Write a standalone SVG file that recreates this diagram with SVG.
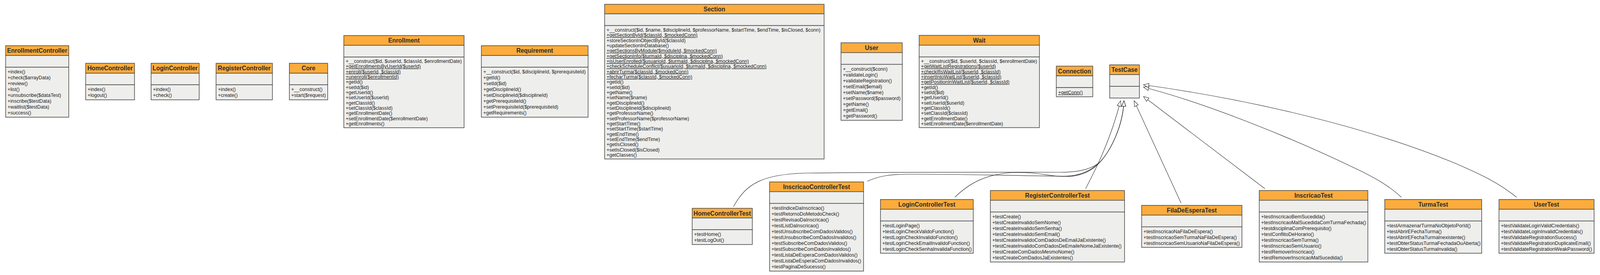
<svg xmlns="http://www.w3.org/2000/svg" width="4258" height="704" viewBox="0 0 4258 704">
<style>
.hd{fill:#FBAC3C;stroke:#4a4a4a;stroke-width:1.6}
.bd{fill:#EEEEEC;stroke:#4a4a4a;stroke-width:1.6}
.t{font-family:"Liberation Sans",Arial,sans-serif;font-size:16px;font-weight:bold;fill:#2a2a2a;text-anchor:middle}
.m{font-family:"Liberation Sans",Arial,sans-serif;font-size:13px;fill:#222}
.u{text-decoration:underline}
.c{fill:none;stroke:#333;stroke-width:1.2;marker-end:url(#gen)}
</style>
<defs>
<marker id="gen" viewBox="-1 -7 16 14" refX="14" refY="0" markerWidth="16" markerHeight="14" orient="auto" markerUnits="userSpaceOnUse">
<path d="M0,-5.5 L14,0 L0,5.5 Z" fill="#fff" stroke="#333" stroke-width="1.2"/>
</marker>
</defs>
<rect x="0" y="0" width="4258" height="704" fill="#fff"/>
<g id="diagram" transform="scale(0.962 1)">

<g id="connectors">
<path class="c" d="M1952,529 C1985,470 2030,445 2150,443 C2400,440 2700,441 2820,441 C2880,441 2910,430 2929,413 C2955,385 2988,325 2991,258"/>
<path class="c" d="M2308,464 C2340,450 2370,446 2420,446 C2600,446 2760,451 2830,451 C2880,451 2910,432 2929,413 C2955,385 2988,325 2991,258"/>
<path class="c" d="M2541,505 C2580,468 2625,446 2692,442 C2760,439 2790,452 2835,452 C2885,452 2912,432 2929,413 C2955,385 2988,325 2991,258"/>
<path class="c" d="M2889,483 C2915,435 2955,360 2982,258"/>
<path class="c" d="M3143,520 L3018,258"/>
<path class="c" d="M3366,483 L3043,247"/>
<path class="c" d="M3729,505 C3700,478 3660,455 3600,428 C3420,345 3200,262 3043,223"/>
<path class="c" d="M4036,505 C3990,470 3950,450 3870,417 C3650,330 3350,258 3043,217"/>
</g>

<g id="EnrollmentController">
<rect class="hd" x="15" y="117" width="168" height="25"/>
<rect class="bd" x="15" y="142" width="168" height="30"/>
<rect class="bd" x="15" y="172" width="168" height="128"/>
<text class="t" x="99" y="135.5">EnrollmentController</text>
<text class="m" x="20" y="188.5">+index()</text>
<text class="m" x="20" y="203.5">+check($arrayData)</text>
<text class="m" x="20" y="218.5">+review()</text>
<text class="m" x="20" y="233.5">+list()</text>
<text class="m" x="20" y="248.5">+unsubscribe($dataTest)</text>
<text class="m" x="20" y="263.5">+inscribe($testData)</text>
<text class="m" x="20" y="278.5">+waitlist($testData)</text>
<text class="m" x="20" y="293.5">+success()</text>
</g>

<g id="HomeController">
<rect class="hd" x="228" y="162" width="130" height="25.5"/>
<rect class="bd" x="228" y="187.5" width="130" height="29.5"/>
<rect class="bd" x="228" y="217" width="130" height="38.5"/>
<text class="t" x="293" y="180.5">HomeController</text>
<text class="m" x="233" y="233.5">+index()</text>
<text class="m" x="233" y="248.5">+logout()</text>
</g>

<g id="LoginController">
<rect class="hd" x="402" y="162" width="128" height="25.5"/>
<rect class="bd" x="402" y="187.5" width="128" height="29.5"/>
<rect class="bd" x="402" y="217" width="128" height="38.5"/>
<text class="t" x="466" y="180.5">LoginController</text>
<text class="m" x="407" y="233.5">+index()</text>
<text class="m" x="407" y="248.5">+check()</text>
</g>

<g id="RegisterController">
<rect class="hd" x="575" y="162" width="150" height="25.5"/>
<rect class="bd" x="575" y="187.5" width="150" height="29.5"/>
<rect class="bd" x="575" y="217" width="150" height="38.5"/>
<text class="t" x="650" y="180.5">RegisterController</text>
<text class="m" x="580" y="233.5">+index()</text>
<text class="m" x="580" y="248.5">+create()</text>
</g>

<g id="Core">
<rect class="hd" x="770" y="162" width="102" height="25.5"/>
<rect class="bd" x="770" y="187.5" width="102" height="29.5"/>
<rect class="bd" x="770" y="217" width="102" height="38.5"/>
<text class="t" x="821" y="180.5">Core</text>
<text class="m" x="775" y="233.5">+__construct()</text>
<text class="m" x="775" y="248.5">+start($request)</text>
</g>

<g id="Enrollment">
<rect class="hd" x="915" y="91" width="320" height="25"/>
<rect class="bd" x="915" y="116" width="320" height="30"/>
<rect class="bd" x="915" y="146" width="320" height="181"/>
<text class="t" x="1075" y="109.5">Enrollment</text>
<text class="m" x="920" y="161">+__construct($id, $userId, $classId, $enrollmentDate)</text>
<text class="m u" x="920" y="174.3">+getEnrollmentsByUserId($userId)</text>
<text class="m u" x="920" y="187.7">+enroll($userId, $classId)</text>
<text class="m u" x="920" y="201">+unenroll($enrollmentId)</text>
<text class="m" x="920" y="214.3">+getId()</text>
<text class="m" x="920" y="227.7">+setId($id)</text>
<text class="m" x="920" y="241">+getUserId()</text>
<text class="m" x="920" y="254.3">+setUserId($userId)</text>
<text class="m" x="920" y="267.7">+getClassId()</text>
<text class="m" x="920" y="281">+setClassId($classId)</text>
<text class="m" x="920" y="294.3">+getEnrollmentDate()</text>
<text class="m" x="920" y="307.7">+setEnrollmentDate($enrollmentDate)</text>
<text class="m" x="920" y="321">+getEnrollments()</text>
</g>

<g id="Requirement">
<rect class="hd" x="1281" y="117" width="284" height="25"/>
<rect class="bd" x="1281" y="142" width="284" height="30"/>
<rect class="bd" x="1281" y="172" width="284" height="128"/>
<text class="t" x="1423" y="135.5">Requirement</text>
<text class="m" x="1286" y="188.5">+__construct($id, $disciplineId, $prerequisiteId)</text>
<text class="m" x="1286" y="203.5">+getId()</text>
<text class="m" x="1286" y="218.5">+setId($id)</text>
<text class="m" x="1286" y="233.5">+getDisciplineId()</text>
<text class="m" x="1286" y="248.5">+setDisciplineId($disciplineId)</text>
<text class="m" x="1286" y="263.5">+getPrerequisiteId()</text>
<text class="m" x="1286" y="278.5">+setPrerequisiteId($prerequisiteId)</text>
<text class="m" x="1286" y="293.5">+getRequirements()</text>
</g>

<g id="Section">
<rect class="hd" x="1609" y="11" width="584" height="24.5"/>
<rect class="bd" x="1609" y="35.5" width="584" height="30"/>
<rect class="bd" x="1609" y="65.5" width="584" height="341.5"/>
<text class="t" x="1901" y="29.5">Section</text>
<text class="m" x="1614" y="81">+__construct($id, $name, $disciplineId, $professorName, $startTime, $endTime, $isClosed, $conn)</text>
<text class="m u" x="1614" y="94.3">+getSectionById($classId, $mockedConn)</text>
<text class="m" x="1614" y="107.7">+storeSectionInObjectById($classId)</text>
<text class="m" x="1614" y="121">+updateSectionInDatabase()</text>
<text class="m u" x="1614" y="134.3">+getSectionsByModule($moduleId, $mockedConn)</text>
<text class="m u" x="1614" y="147.7">+getSectionInfo($turmaId, $disciplina, $mockedConn)</text>
<text class="m u" x="1614" y="161">+isUserEnrolled($usuarioId, $turmaId, $disciplina, $mockedConn)</text>
<text class="m u" x="1614" y="174.3">+checkScheduleConflict($usuarioId, $turmaId, $disciplina, $mockedConn)</text>
<text class="m u" x="1614" y="187.7">+abrirTurma($classId, $mockedConn)</text>
<text class="m u" x="1614" y="201">+fecharTurma($classId, $mockedConn)</text>
<text class="m" x="1614" y="214.3">+getId()</text>
<text class="m" x="1614" y="227.7">+setId($id)</text>
<text class="m" x="1614" y="241">+getName()</text>
<text class="m" x="1614" y="254.3">+setName($name)</text>
<text class="m" x="1614" y="267.7">+getDisciplineId()</text>
<text class="m" x="1614" y="281">+setDisciplineId($disciplineId)</text>
<text class="m" x="1614" y="294.3">+getProfessorName()</text>
<text class="m" x="1614" y="307.7">+setProfessorName($professorName)</text>
<text class="m" x="1614" y="321">+getStartTime()</text>
<text class="m" x="1614" y="334.3">+setStartTime($startTime)</text>
<text class="m" x="1614" y="347.7">+getEndTime()</text>
<text class="m" x="1614" y="361">+setEndTime($endTime)</text>
<text class="m" x="1614" y="374.3">+getIsClosed()</text>
<text class="m" x="1614" y="387.7">+setIsClosed($isClosed)</text>
<text class="m" x="1614" y="401">+getClasses()</text>
</g>

<g id="User">
<rect class="hd" x="2238" y="109.5" width="163" height="25.2"/>
<rect class="bd" x="2238" y="134.7" width="163" height="30"/>
<rect class="bd" x="2238" y="164.7" width="163" height="143.3"/>
<text class="t" x="2319.5" y="128">User</text>
<text class="m" x="2243" y="181.2">+__construct($conn)</text>
<text class="m" x="2243" y="196.2">+validateLogin()</text>
<text class="m" x="2243" y="211.2">+validateRegistration()</text>
<text class="m" x="2243" y="226.2">+setEmail($email)</text>
<text class="m" x="2243" y="241.2">+setName($name)</text>
<text class="m" x="2243" y="256.2">+setPassword($password)</text>
<text class="m" x="2243" y="271.2">+getName()</text>
<text class="m" x="2243" y="286.2">+getEmail()</text>
<text class="m" x="2243" y="301.2">+getPassword()</text>
</g>

<g id="Wait">
<rect class="hd" x="2446" y="90.5" width="320" height="25.2"/>
<rect class="bd" x="2446" y="115.7" width="320" height="30"/>
<rect class="bd" x="2446" y="145.7" width="320" height="181"/>
<text class="t" x="2606" y="109">Wait</text>
<text class="m" x="2451" y="161">+__construct($id, $userId, $classId, $enrollmentDate)</text>
<text class="m u" x="2451" y="174.3">+getWaitListRegistrations($userId)</text>
<text class="m u" x="2451" y="187.7">+checkIfIsWaitList($userId, $classId)</text>
<text class="m u" x="2451" y="201">+insertIntoWaitList($userId, $classId)</text>
<text class="m u" x="2451" y="214.3">+getPositionInWaitList($userId, $classId)</text>
<text class="m" x="2451" y="227.7">+getId()</text>
<text class="m" x="2451" y="241">+setId($id)</text>
<text class="m" x="2451" y="254.3">+getUserId()</text>
<text class="m" x="2451" y="267.7">+setUserId($userId)</text>
<text class="m" x="2451" y="281">+getClassId()</text>
<text class="m" x="2451" y="294.3">+setClassId($classId)</text>
<text class="m" x="2451" y="307.7">+getEnrollmentDate()</text>
<text class="m" x="2451" y="321">+setEnrollmentDate($enrollmentDate)</text>
</g>

<g id="Connection">
<rect class="hd" x="2811" y="169.3" width="97" height="25"/>
<rect class="bd" x="2811" y="194.3" width="97" height="30"/>
<rect class="bd" x="2811" y="224.3" width="97" height="23.4"/>
<text class="t" x="2859.5" y="187.8">Connection</text>
<text class="m u" x="2816" y="240.8">+getConn()</text>
</g>

<g id="TestCase">
<rect class="hd" x="2953" y="166" width="79" height="25"/>
<rect class="bd" x="2953" y="191" width="79" height="30"/>
<rect class="bd" x="2953" y="221" width="79" height="30"/>
<text class="t" x="2992.5" y="184.5">TestCase</text>
</g>

<g id="HomeControllerTest">
<rect class="hd" x="1842" y="533.3" width="160" height="24.7"/>
<rect class="bd" x="1842" y="558" width="160" height="30"/>
<rect class="bd" x="1842" y="588" width="160" height="38"/>
<text class="t" x="1922" y="551.8">HomeControllerTest</text>
<text class="m" x="1847" y="604.3">+testHome()</text>
<text class="m" x="1847" y="619">+testLogOut()</text>
</g>

<g id="InscricaoControllerTest">
<rect class="hd" x="2048" y="465.7" width="250" height="25"/>
<rect class="bd" x="2048" y="490.7" width="250" height="30"/>
<rect class="bd" x="2048" y="520.7" width="250" height="173.3"/>
<text class="t" x="2173" y="484.2">InscricaoControllerTest</text>
<text class="m" x="2053" y="537.2">+testIndiceDaInscricao()</text>
<text class="m" x="2053" y="552.2">+testRetornoDoMetodoCheck()</text>
<text class="m" x="2053" y="567.2">+testRevisaoDaInscricao()</text>
<text class="m" x="2053" y="582.2">+testListDaInscricao()</text>
<text class="m" x="2053" y="597.2">+testUnsubscribeComDadosValidos()</text>
<text class="m" x="2053" y="612.2">+testUnsubscribeComDadosInvalidos()</text>
<text class="m" x="2053" y="627.2">+testSubscribeComDadosValidos()</text>
<text class="m" x="2053" y="642.2">+testSubscribeComDadosInvalidos()</text>
<text class="m" x="2053" y="657.2">+testListaDeEsperaComDadosValidos()</text>
<text class="m" x="2053" y="672.2">+testListaDeEsperaComDadosInvalidos()</text>
<text class="m" x="2053" y="687.2">+testPaginaDeSucesso()</text>
</g>

<g id="LoginControllerTest">
<rect class="hd" x="2343" y="510.7" width="247" height="25"/>
<rect class="bd" x="2343" y="535.7" width="247" height="30"/>
<rect class="bd" x="2343" y="565.7" width="247" height="82.6"/>
<text class="t" x="2466.5" y="529.2">LoginControllerTest</text>
<text class="m" x="2348" y="582.2">+testLoginPage()</text>
<text class="m" x="2348" y="597.2">+testLoginCheckValidoFunction()</text>
<text class="m" x="2348" y="612.2">+testLoginCheckInvalidoFunction()</text>
<text class="m" x="2348" y="627.2">+testLoginCheckEmailInvalidoFunction()</text>
<text class="m" x="2348" y="642.2">+testLoginCheckSenhaInvalidaFunction()</text>
</g>

<g id="RegisterControllerTest">
<rect class="hd" x="2635.5" y="487.7" width="357" height="25"/>
<rect class="bd" x="2635.5" y="512.7" width="357" height="30"/>
<rect class="bd" x="2635.5" y="542.7" width="357" height="128"/>
<text class="t" x="2814" y="506.2">RegisterControllerTest</text>
<text class="m" x="2640.5" y="559.2">+testCreate()</text>
<text class="m" x="2640.5" y="574.2">+testCreateInvalidoSemNome()</text>
<text class="m" x="2640.5" y="589.2">+testCreateInvalidoSemSenha()</text>
<text class="m" x="2640.5" y="604.2">+testCreateInvalidoSemEmail()</text>
<text class="m" x="2640.5" y="619.2">+testCreateInvalidoComDadosDeEmailJaExistente()</text>
<text class="m" x="2640.5" y="634.2">+testCreateInvalidoComDadosDeEmaileNomeJaExistente()</text>
<text class="m" x="2640.5" y="649.2">+testCreateComDadosMesmoNome()</text>
<text class="m" x="2640.5" y="664.2">+testCreateComDadosJaExistentes()</text>
</g>

<g id="FilaDeEsperaTest">
<rect class="hd" x="3038" y="525.7" width="267" height="25"/>
<rect class="bd" x="3038" y="550.7" width="267" height="30"/>
<rect class="bd" x="3038" y="580.7" width="267" height="52.6"/>
<text class="t" x="3171.5" y="544.2">FilaDeEsperaTest</text>
<text class="m" x="3043" y="597.2">+testInscricaoNaFilaDeEspera()</text>
<text class="m" x="3043" y="612.2">+testInscricaoSemTurmaNaFilaDeEspera()</text>
<text class="m" x="3043" y="627.2">+testInscricaoSemUsuarioNaFilaDeEspera()</text>
</g>

<g id="InscricaoTest">
<rect class="hd" x="3351" y="487.7" width="289" height="25"/>
<rect class="bd" x="3351" y="512.7" width="289" height="30"/>
<rect class="bd" x="3351" y="542.7" width="289" height="128"/>
<text class="t" x="3495.5" y="506.2">InscricaoTest</text>
<text class="m" x="3356" y="559.2">+testInscricaoBemSucedida()</text>
<text class="m" x="3356" y="574.2">+testInscricaoMalSucedidaComTurmaFechada()</text>
<text class="m" x="3356" y="589.2">+testdisciplinaComPrerequisito()</text>
<text class="m" x="3356" y="604.2">+testConflitoDeHorario()</text>
<text class="m" x="3356" y="619.2">+testInscricaoSemTurma()</text>
<text class="m" x="3356" y="634.2">+testInscricaoSemUsuario()</text>
<text class="m" x="3356" y="649.2">+testRemoverInscricao()</text>
<text class="m" x="3356" y="664.2">+testRemoverInscricaoMalSucedida()</text>
</g>

<g id="TurmaTest">
<rect class="hd" x="3685" y="510.7" width="258" height="25"/>
<rect class="bd" x="3685" y="535.7" width="258" height="30"/>
<rect class="bd" x="3685" y="565.7" width="258" height="82.6"/>
<text class="t" x="3814" y="529.2">TurmaTest</text>
<text class="m" x="3690" y="582.2">+testArmazenarTurmaNoObjetoPorId()</text>
<text class="m" x="3690" y="597.2">+testAbrirEFechaTurma()</text>
<text class="m" x="3690" y="612.2">+testAbrirEFechaTurmaInexistente()</text>
<text class="m" x="3690" y="627.2">+testObterStatusTurmaFechadaOuAberta()</text>
<text class="m" x="3690" y="642.2">+testObterStatusTurmaInvalida()</text>
</g>

<g id="UserTest">
<rect class="hd" x="3989" y="510.7" width="253" height="25"/>
<rect class="bd" x="3989" y="535.7" width="253" height="30"/>
<rect class="bd" x="3989" y="565.7" width="253" height="82.6"/>
<text class="t" x="4115.5" y="529.2">UserTest</text>
<text class="m" x="3994" y="582.2">+testValidateLoginValidCredentials()</text>
<text class="m" x="3994" y="597.2">+testValidateLoginInvalidCredentials()</text>
<text class="m" x="3994" y="612.2">+testValidateRegistrationSuccess()</text>
<text class="m" x="3994" y="627.2">+testValidateRegistrationDuplicateEmail()</text>
<text class="m" x="3994" y="642.2">+testValidateRegistrationWeakPassword()</text>
</g>
</g>
</svg>
